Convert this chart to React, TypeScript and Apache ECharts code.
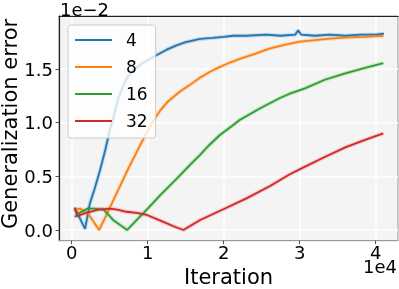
import React, { useEffect, useRef } from "react";
import * as echarts from "echarts";

// Iteration (x) and generalization error (in units of 1e-2) per setting
const seriesNames = ["4", "8", "16", "32"];
const colors = ["#1f77b4", "#ff7f0e", "#2ca02c", "#d62728"];

const iter4 = [400, 1000, 1760, 2400, 3000, 3700, 4400, 5000, 5500, 6100, 6700, 7300, 8000, 9000, 10000, 11200, 12500, 13800, 15000, 16900, 18500, 20000, 21300, 23000, 25600, 27500, 29400, 29800, 30200, 32000, 34000, 36000, 38000, 40000, 41100];
const err4 = [0.20, 0.12, 0.01, 0.25, 0.38, 0.55, 0.74, 0.93, 1.05, 1.22, 1.33, 1.42, 1.48, 1.54, 1.585, 1.63, 1.68, 1.72, 1.75, 1.78, 1.79, 1.80, 1.81, 1.81, 1.82, 1.81, 1.82, 1.86, 1.82, 1.81, 1.82, 1.81, 1.82, 1.82, 1.83];

const iter8 = [400, 1100, 2200, 3600, 4500, 5500, 6500, 7500, 8300, 9000, 9900, 10600, 11600, 12700, 14250, 15500, 16900, 18200, 19500, 21000, 22100, 24300, 26000, 28000, 30000, 32000, 34400, 36500, 38500, 41000];
const err8 = [0.19, 0.20, 0.15, 0.00, 0.13, 0.28, 0.43, 0.58, 0.69, 0.79, 0.91, 1.00, 1.11, 1.20, 1.29, 1.35, 1.42, 1.475, 1.52, 1.565, 1.595, 1.645, 1.69, 1.725, 1.755, 1.77, 1.785, 1.795, 1.80, 1.81];

const iter16 = [400, 1000, 2100, 3000, 4200, 5000, 5500, 6300, 7300, 8500, 10000, 11600, 13000, 14250, 15600, 16900, 18000, 19500, 21000, 22100, 24800, 27400, 28700, 30700, 33300, 36000, 38600, 41000];
const err16 = [0.12, 0.16, 0.20, 0.20, 0.19, 0.13, 0.09, 0.05, 0.00, 0.09, 0.20, 0.32, 0.42, 0.51, 0.61, 0.70, 0.785, 0.885, 0.965, 1.025, 1.135, 1.23, 1.27, 1.32, 1.40, 1.46, 1.51, 1.555];

const iter32 = [400, 740, 1500, 2500, 3500, 5000, 6000, 7200, 8500, 9900, 11600, 13400, 14700, 16900, 19950, 23000, 26100, 28700, 30700, 33300, 36000, 38600, 41000];
const err32 = [0.21, 0.13, 0.15, 0.17, 0.19, 0.20, 0.19, 0.17, 0.16, 0.14, 0.09, 0.035, 0.00, 0.093, 0.193, 0.295, 0.41, 0.52, 0.59, 0.68, 0.77, 0.84, 0.90];

const xTicks = [0, 10000, 20000, 30000, 40000];
const yTicks = [0, 0.5, 1.0, 1.5];

const FONT = "DejaVu Sans";

export default function App() {
  const ref = useRef<HTMLDivElement>(null);
  useEffect(() => {
    if (!ref.current) return;
    const chart = echarts.init(ref.current, null, { renderer: "svg" });
    const iters = [iter4, iter8, iter16, iter32];
    const errs = [err4, err8, err16, err32];
    const pairs = iters.map((xs, i) => xs.map((x, j) => [x, errs[i][j]]));

    const bands = pairs.map((d, i) => ({
      name: seriesNames[i] + " band",
      type: "line",
      data: d,
      showSymbol: false,
      silent: true,
      z: 1,
      lineStyle: { color: colors[i], width: 4, opacity: 0.22 },
    }));
    const lines = pairs.map((d, i) => ({
      name: seriesNames[i],
      type: "line",
      data: d,
      showSymbol: false,
      z: 2,
      color: colors[i],
      lineStyle: { color: colors[i], width: 1.8 },
    }));

    chart.setOption({
      animation: false,
      textStyle: { fontFamily: FONT },
      grid: {
        left: 59,
        top: 16,
        right: 1,
        bottom: 48.3,
        containLabel: false,
        outerBoundsMode: "none",
        show: true,
        backgroundColor: "#f4f4f4",
        borderColor: "#9a9a9a",
        borderWidth: 1,
      },
      xAxis: [
        {
          type: "value",
          min: -1671,
          max: 42934,
          name: "Iteration",
          nameLocation: "middle",
          nameGap: 24.5,
          nameTextStyle: { fontSize: 21, color: "#000", fontFamily: FONT, verticalAlign: "top" },
          axisLine: { show: true, onZero: false, lineStyle: { color: "#9a9a9a", width: 1 } },
          axisTick: { show: true, length: 3.5, customValues: xTicks, lineStyle: { color: "#555" } },
          axisLabel: {
            customValues: xTicks,
            margin: 3,
            fontSize: 18,
            color: "#000",
            fontFamily: FONT,
            formatter: (v: number) => String(Math.round(v / 10000)),
          },
          splitLine: { show: true, lineStyle: { color: "#ffffff", width: 1.5 } },
        },
        {
          type: "value",
          position: "top",
          min: -1671,
          max: 42934,
          axisLine: { show: true, onZero: false, lineStyle: { color: "#222", width: 1.2 } },
          axisTick: { show: false },
          axisLabel: { show: false },
          splitLine: { show: false },
        },
      ],
      yAxis: {
        type: "value",
        min: -0.0997,
        max: 1.994,
        axisLine: { show: true, onZero: false, lineStyle: { color: "#222", width: 1.2 } },
        axisTick: { show: true, length: 3.5, customValues: yTicks, lineStyle: { color: "#555" } },
        axisLabel: {
          customValues: yTicks,
          margin: 6,
          fontSize: 18,
          color: "#000",
          fontFamily: FONT,
          formatter: (v: number) => v.toFixed(1),
        },
        splitLine: { show: true, lineStyle: { color: "#ffffff", width: 1.5 } },
      },
      legend: {
        data: seriesNames,
        orient: "vertical",
        left: 68,
        top: 25,
        icon: "rect",
        itemWidth: 37,
        itemHeight: 2,
        itemGap: 7,
        padding: [5, 8, 7, 7],
        backgroundColor: "rgba(255,255,255,0.8)",
        borderColor: "#cccccc",
        borderWidth: 1,
        borderRadius: 3,
        textStyle: {
          fontSize: 17,
          lineHeight: 20,
          color: "#000",
          fontFamily: FONT,
          padding: [0, 0, 0, 9],
        },
      },
      graphic: [
        {
          type: "text",
          x: 10,
          y: 124,
          rotation: Math.PI / 2,
          style: {
            text: "Generalization error",
            font: `21px '${FONT}'`,
            fill: "#000",
            textAlign: "center",
            textVerticalAlign: "middle",
          },
        },
        {
          type: "text",
          left: 60,
          top: 0,
          style: { text: "1e\u22122", font: `18px '${FONT}'`, fill: "#000" },
        },
        {
          type: "text",
          right: 2,
          top: 257,
          style: { text: "1e4", font: `18px '${FONT}'`, fill: "#000" },
        },
      ],
      series: [...bands, ...lines],
    });
    return () => chart.dispose();
  }, []);
  return (
    <div
      ref={ref}
      style={{ position: "fixed", left: 0, top: 0, width: 399, height: 289 }}
    />
  );
}
